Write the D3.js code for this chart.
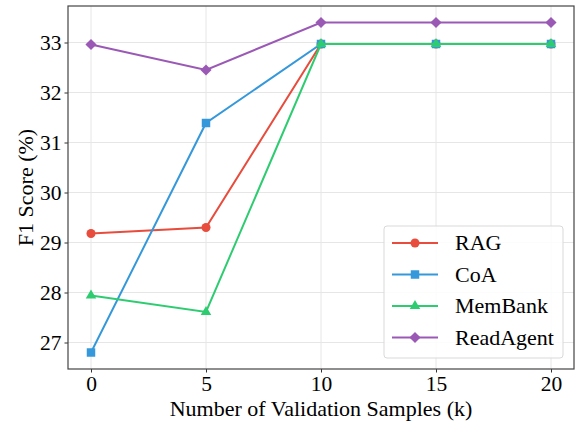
<!DOCTYPE html>
<html lang="en">
<head>
<meta charset="UTF-8">
<title>F1 vs validation samples</title>
<style>
  body { margin: 0; background: #fff; }
</style>
</head>
<body>
<svg id="chart"></svg>
<script src="https://d3js.org/d3.v7.min.js"></script>
<script>
// data
var samples = [0, 5, 10, 15, 20];
var ragScores = [29.18, 29.30, 32.97, 32.97, 32.97];
var coaScores = [26.80, 31.39, 32.97, 32.97, 32.97];
var memBankScores = [27.94, 27.61, 32.97, 32.97, 32.97];
var readAgentScores = [32.96, 32.45, 33.40, 33.40, 33.40];
var xTicks = [0, 5, 10, 15, 20];
var yTicks = [27, 28, 29, 30, 31, 32, 33];

var FONT = "'Liberation Serif', 'Times New Roman', serif";

// diamond = square turned 45deg, like matplotlib's "D"
var series = [
  { name: "RAG", values: ragScores, color: "#e74c3c", symbol: d3.symbolCircle, size: 64, rot: 0 },
  { name: "CoA", values: coaScores, color: "#3498db", symbol: d3.symbolSquare, size: 72, rot: 0 },
  { name: "MemBank", values: memBankScores, color: "#2ecc71", symbol: d3.symbolTriangle, size: 48, rot: 0 },
  { name: "ReadAgent", values: readAgentScores, color: "#9b59b6", symbol: d3.symbolSquare, size: 62, rot: 45 }
];

var svgWidth = 577, svgHeight = 424;
var margin = { top: 6, right: 3, bottom: 55, left: 68 };
var width = svgWidth - margin.left - margin.right;
var height = svgHeight - margin.top - margin.bottom;

var svg = d3.select("#chart")
  .attr("width", svgWidth)
  .attr("height", svgHeight)
  .attr("font-family", FONT);

var g = svg.append("g")
  .attr("transform", "translate(" + margin.left + "," + margin.top + ")");

var x = d3.scaleLinear().domain([-1, 21]).range([0, width]);
var y = d3.scaleLinear().domain([26.47, 33.73]).range([height, 0]);

// grid
g.append("g").selectAll("line").data(xTicks).enter().append("line")
  .attr("x1", function(d) { return x(d); }).attr("x2", function(d) { return x(d); })
  .attr("y1", 0).attr("y2", height)
  .attr("stroke", "#e6e6e6").attr("stroke-width", 1);
g.append("g").selectAll("line").data(yTicks).enter().append("line")
  .attr("y1", function(d) { return y(d); }).attr("y2", function(d) { return y(d); })
  .attr("x1", 0).attr("x2", width)
  .attr("stroke", "#e6e6e6").attr("stroke-width", 1);

// axes
var xAxis = g.append("g")
  .attr("transform", "translate(0," + height + ")")
  .call(d3.axisBottom(x).tickValues(xTicks).tickSize(3.5).tickPadding(3));
var yAxis = g.append("g")
  .call(d3.axisLeft(y).tickValues(yTicks).tickSize(3.5).tickPadding(3));
[xAxis, yAxis].forEach(function(a) {
  a.attr("font-family", FONT).attr("font-size", 21.5);
  a.select(".domain").remove();
  a.selectAll("text").attr("fill", "#000");
  a.selectAll("line").attr("stroke", "#333");
});

// frame
g.append("rect")
  .attr("width", width).attr("height", height)
  .attr("fill", "none").attr("stroke", "#444").attr("stroke-width", 1.2);

// lines and markers
var line = d3.line()
  .x(function(d, i) { return x(samples[i]); })
  .y(function(d) { return y(d); });

series.forEach(function(s) {
  g.append("path")
    .datum(s.values)
    .attr("fill", "none")
    .attr("stroke", s.color)
    .attr("stroke-width", 2)
    .attr("d", line);
  g.append("g").selectAll("path").data(s.values).enter().append("path")
    .attr("transform", function(d, i) {
      return "translate(" + x(samples[i]) + "," + y(d) + ") rotate(" + s.rot + ")";
    })
    .attr("d", d3.symbol().type(s.symbol).size(s.size))
    .attr("fill", s.color);
});

// axis labels
g.append("text")
  .attr("x", width / 2).attr("y", height + 47)
  .attr("text-anchor", "middle")
  .attr("font-size", 22)
  .text("Number of Validation Samples (k)");

g.append("text")
  .attr("transform", "rotate(-90)")
  .attr("x", -height / 2).attr("y", -35)
  .attr("text-anchor", "middle")
  .attr("font-size", 22)
  .text("F1 Score (%)");

// legend
var lg = svg.append("g").attr("transform", "translate(384,226)");
lg.append("rect")
  .attr("width", 179).attr("height", 132)
  .attr("rx", 3)
  .attr("fill", "#fff").attr("fill-opacity", 0.85)
  .attr("stroke", "#d9d9d9");
series.forEach(function(s, i) {
  var row = lg.append("g").attr("transform", "translate(0," + (17 + i * 31.5) + ")");
  row.append("line")
    .attr("x1", 8).attr("x2", 54)
    .attr("stroke", s.color).attr("stroke-width", 2);
  row.append("path")
    .attr("transform", "translate(31,0) rotate(" + s.rot + ")")
    .attr("d", d3.symbol().type(s.symbol).size(s.size))
    .attr("fill", s.color);
  row.append("text")
    .attr("x", 71).attr("y", 7)
    .attr("font-size", 22)
    .text(s.name);
});
</script>
</body>
</html>
